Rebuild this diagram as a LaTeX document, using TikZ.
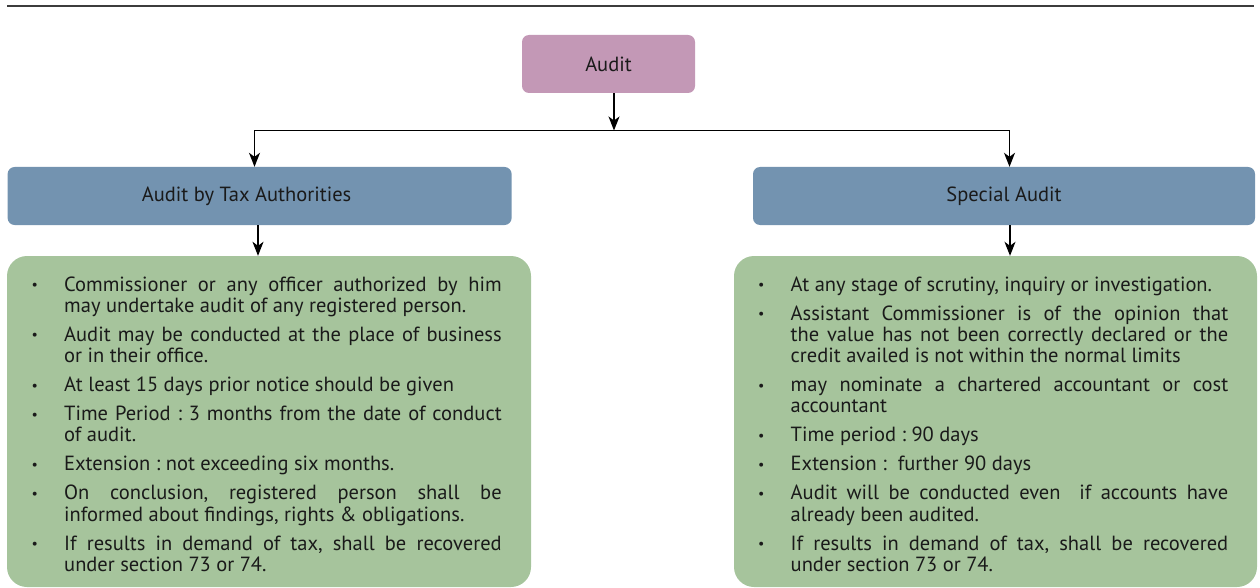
\documentclass[tikz,border=0pt]{standalone}
\usepackage{fontspec}
\setmainfont{PT Sans}
\usetikzlibrary{arrows.meta}

\definecolor{mauvefill}{HTML}{C398B6}
\definecolor{bluefill}{HTML}{7393B0}
\definecolor{greenfill}{HTML}{A6C49C}
\definecolor{inktext}{HTML}{1A1A1A}
\definecolor{rulegray}{HTML}{3C3C3C}

% one bulleted paragraph: small bullet at the left edge, text hung after it
\newcommand\smallbullet{{\fontsize{14}{14}\selectfont\raisebox{1.6pt}{\textbullet}}}
\newcommand\bulletitem[1]{\par\noindent\hangindent=32.5pt\hangafter=0
  \llap{\hbox to 32.5pt{\smallbullet\hss}}#1\par}
\newcommand\itemgap{\vspace{7.8pt}}

\tikzset{
  bodyfont/.style={font=\fontsize{20.5}{21.2}\selectfont\frenchspacing, text=inktext},
  headbox/.style={bodyfont, rounded corners=7pt, draw=none, inner sep=0pt},
  topbox/.style={headbox, fill=mauvefill, minimum width=173pt, minimum height=58pt},
  kindbox/.style={headbox, fill=bluefill, minimum height=58pt},
  notebox/.style={fill=greenfill, rounded corners=20pt, inner sep=0pt, minimum height=331pt},
  notelist/.style={bodyfont, inner sep=0pt, text width=470pt, align=justify, anchor=base west},
  connector/.style={draw=black, line width=1.3pt},
  flowarrow/.style={connector, -{Stealth[length=14pt,width=11pt,inset=4pt]}},
}

\begin{document}
\begin{tikzpicture}[x=1pt,y=-1pt]
\useasboundingbox (0,0) rectangle (1260,588);

% rule across the head of the page
\draw[rulegray, line width=2pt] (7,5.7) -- (1254,5.7);

% boxes
\node[topbox] (audit) at (608.5,64) {Audit};
\node[kindbox, minimum width=504pt] (taxhead) at (259.6,196) {Audit by Tax Authorities\rule{26pt}{0pt}};
\node[kindbox, minimum width=502pt] (sahead) at (1004,196) {Special Audit};
\node[notebox, minimum width=524pt] (taxbox) at (269,421.5) {};
\node[notebox, minimum width=523pt] (sabox) at (995.5,421.5) {};

% branching connectors
\coordinate (split) at (614,130.5);
\coordinate (taxturn) at (254.5,130.5);
\coordinate (saturn) at (1009.5,130.5);
\draw[flowarrow] (audit.south -| split) -- (split);
\draw[connector, line width=1.5pt] (taxturn) -- (saturn);
\draw[flowarrow] (taxturn) -- (taxturn |- taxhead.north);
\draw[flowarrow] (saturn) -- (saturn |- sahead.north);
\draw[flowarrow] ([xshift=-1.6pt]taxhead.south) -- ([xshift=-1.6pt]taxhead.south |- taxbox.north);
\draw[flowarrow] ([xshift=6pt]sahead.south) -- ([xshift=6pt]sahead.south |- sabox.north);

% notes on audit by the tax authorities
\node[notelist] (taxlist) at (31.5,270) {%
\bulletitem{Commissioner or any officer authorized by him\linebreak may undertake audit of any registered person.}\itemgap
\bulletitem{Audit may be conducted at the place of business\linebreak or in their office.}\itemgap
\bulletitem{At least 15 days prior notice should be given}\itemgap
\bulletitem{Time Period : 3 months from the date of conduct\linebreak of audit.}\itemgap
\bulletitem{Extension : not exceeding six months.}\itemgap
\bulletitem{On conclusion, registered person shall be\linebreak informed about findings, rights \& obligations.}\itemgap
\bulletitem{If results in demand of tax, shall be recovered\linebreak under section 73 or 74.}};

% notes on the special audit
\node[notelist] (salist) at (758,270) {%
\bulletitem{At any stage of scrutiny, inquiry or investigation.}\itemgap
\bulletitem{Assistant Commissioner is of the opinion that\linebreak the value has not been correctly declared or the\linebreak credit availed is not within the normal limits}\itemgap
\bulletitem{may nominate a chartered accountant or cost\linebreak accountant}\itemgap
\bulletitem{Time period : 90 days}\itemgap
\bulletitem{Extension :\ \ further 90 days}\itemgap
\bulletitem{Audit will be conducted even\ \ if accounts have\linebreak already been audited.}\itemgap
\bulletitem{If results in demand of tax, shall be recovered\linebreak under section 73 or 74.}};
\end{tikzpicture}
\end{document}
